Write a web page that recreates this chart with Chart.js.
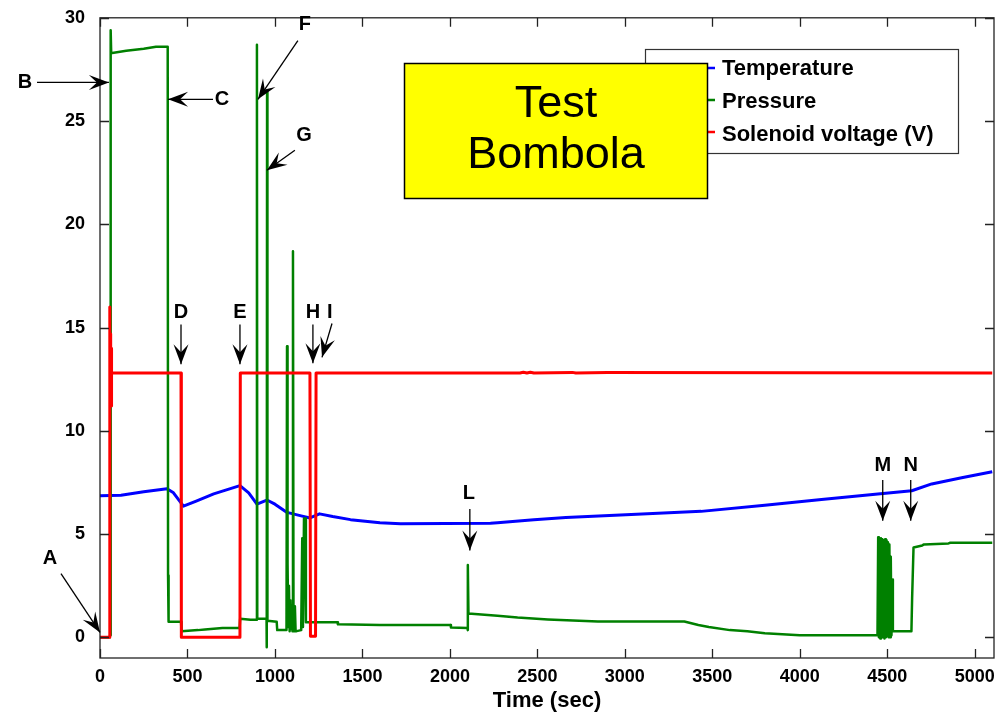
<!DOCTYPE html>
<html>
<head>
<meta charset="utf-8">
<script src="https://cdn.jsdelivr.net/npm/chart.js@4/dist/chart.umd.min.js"></script>
<style>
  body { margin: 0; background: #fff; }
  #wrap { width: 1007px; height: 717px; }
</style>
</head>
<body>
<div id="wrap"><canvas id="bombolaChart" width="1007" height="717"></canvas></div>
<script>
// tick labels
const xTickValues = [0, 500, 1000, 1500, 2000, 2500, 3000, 3500, 4000, 4500, 5000];
const yTickValues = [0, 5, 10, 15, 20, 25, 30];

// Temperature
const tempTime = [0, 120, 250, 383, 420, 477, 550, 650, 800, 850, 897, 954, 1000, 1069, 1150, 1200, 1255,
  1330, 1432, 1600, 1718, 2232, 2272, 2480, 2663, 3006, 3436, 3800, 4124, 4446, 4640, 4754, 4925, 5100];
const tempVals = [6.86, 6.88, 7.05, 7.2, 7.0, 6.35, 6.6, 6.95, 7.35, 7.0, 6.45, 6.65, 6.45, 6.05, 5.88, 5.78, 5.98,
  5.85, 5.7, 5.55, 5.5, 5.52, 5.55, 5.7, 5.8, 5.94, 6.1, 6.4, 6.67, 6.94, 7.1, 7.43, 7.73, 8.02];

// Pressure
const pressTime = [0, 55, 58, 60, 62, 64, 70, 150, 250, 320, 387, 389, 392, 463, 466, 560, 600, 700, 798, 801,
  860, 895, 897, 899, 952, 953, 955, 957, 1010, 1013, 1066, 1069, 1072, 1076, 1080, 1084, 1088, 1092, 1096,
  1100, 1103, 1106, 1110, 1114, 1118, 1124, 1150, 1156, 1160, 1166, 1172, 1177, 1357, 1360, 1600, 2004, 2006,
  2100, 2102, 2103, 2106, 2272, 2387, 2560, 2846, 3340, 3420, 3480, 3600, 3700, 3800, 3900, 4000, 4444,
  4446, 4448, 4452, 4456, 4460, 4464, 4468, 4472, 4476, 4480, 4484, 4488, 4492, 4496, 4500, 4504, 4508,
  4512, 4516, 4520, 4524, 4528, 4532, 4638, 4642, 4650, 4700, 4710, 4850, 4860, 5100];
const pressVals = [0, 0, 0.1, 16.5, 29.4, 28.3, 28.3, 28.4, 28.5, 28.6, 28.6, 3.0, 0.75, 0.75, 0.3, 0.35, 0.38, 0.45, 0.45, 0.9,
  0.85, 0.85, 28.7, 0.9, 0.9, -0.48, 26.4, 0.8, 0.75, 0.35, 0.35, 14.1, 3.6, 0.5, 2.5, 0.3, 1.8, 0.4, 1.2,
  0.3, 18.7, 1.2, 0.3, 1.5, 0.3, 0.3, 0.35, 4.8, 0.5, 5.75, 5.75, 0.73, 0.73, 0.63, 0.6, 0.6, 0.48,
  0.45, 0.35, 3.5, 1.15, 1.05, 0.96, 0.87, 0.77, 0.77, 0.6, 0.5, 0.35, 0.3, 0.2, 0.15, 0.1, 0.1,
  0.1, 4.85, 0.0, 4.8, -0.05, 4.8, 0.05, 4.75, 0.0, 4.7, -0.05, 4.75, 0.0, 4.7, 0.05, 4.6, 0.0,
  4.5, 0.0, 3.9, 0.1, 2.8, 0.3, 0.3, 1.9, 4.35, 4.45, 4.5, 4.55, 4.58, 4.58];

// Solenoid voltage (V)
const solTime = [0, 53, 55, 57, 59, 61, 63, 65, 67, 463, 465, 800, 802, 1200, 1203, 1232, 1235,
  2400, 2420, 2440, 2460, 2480, 2700, 2720, 2900, 5100];
const solVals = [0, 0, 16.0, 11.2, 14.7, 11.3, 14.0, 11.2, 12.8, 12.8, 0.0, 0.0, 12.8, 12.8, 0.05, 0.05, 12.8,
  12.8, 12.84, 12.8, 12.84, 12.8, 12.83, 12.8, 12.82, 12.8];

const seriesNames = ['Temperature', 'Pressure', 'Solenoid voltage (V)'];
const seriesColors = ['#0000ff', '#008000', '#ff0000'];

// letter markers: text position and arrow (from -> tip), in data units
const notes = [
  { t: 'A', at: [-286, 3.81], from: [-223, 3.09], to: [0, 0.24] },
  { t: 'B', at: [-429, 26.87], from: [-360, 26.87], to: [51, 26.87] },
  { t: 'C', at: [697, 26.05], from: [646, 26.05], to: [389, 26.05] },
  { t: 'D', at: [463, 15.73], from: [463, 15.15], to: [463, 13.22] },
  { t: 'E', at: [800, 15.73], from: [800, 15.15], to: [800, 13.22] },
  { t: 'F', at: [1171, 29.67], from: [1131, 28.9], to: [903, 26.05] },
  { t: 'G', at: [1166, 24.31], from: [1114, 23.59], to: [954, 22.62] },
  { t: 'H', at: [1217, 15.73], from: [1217, 15.15], to: [1217, 13.27] },
  { t: 'I', at: [1314, 15.73], from: [1326, 15.2], to: [1269, 13.56] },
  { t: 'L', at: [2109, 6.95], from: [2114, 6.22], to: [2114, 4.2] },
  { t: 'M', at: [4474, 8.3], from: [4474, 7.62], to: [4474, 5.64] },
  { t: 'N', at: [4634, 8.3], from: [4634, 7.62], to: [4634, 5.64] }
];

function pts(times, vals) {
  return times.map(function (t, i) { return { x: t, y: vals[i] }; });
}

function arrowHead(ctx, x1, y1, x2, y2) {
  const L = 20, W = 15;
  const a = Math.atan2(y2 - y1, x2 - x1);
  const dx = Math.cos(a), dy = Math.sin(a);
  const nx = -dy, ny = dx;
  ctx.beginPath();
  ctx.moveTo(x2, y2);
  ctx.lineTo(x2 - dx * L + nx * W / 2, y2 - dy * L + ny * W / 2);
  ctx.lineTo(x2 - dx * L * 0.6, y2 - dy * L * 0.6);
  ctx.lineTo(x2 - dx * L - nx * W / 2, y2 - dy * L - ny * W / 2);
  ctx.closePath();
  ctx.fill();
}

const decor = {
  id: 'decor',
  afterDatasetsDraw(chart) {
    const ctx = chart.ctx;
    const area = chart.chartArea;
    const xs = chart.scales.x, ys = chart.scales.y;
    ctx.save();

    // axes box + inward ticks
    ctx.strokeStyle = '#222';
    ctx.lineWidth = 1.3;
    ctx.strokeRect(area.left, area.top, area.right - area.left, area.bottom - area.top);
    ctx.beginPath();
    xTickValues.forEach(function (v) {
      const px = Math.round(xs.getPixelForValue(v)) + 0.5;
      ctx.moveTo(px, area.bottom); ctx.lineTo(px, area.bottom - 9);
      ctx.moveTo(px, area.top); ctx.lineTo(px, area.top + 9);
    });
    yTickValues.forEach(function (v) {
      const py = Math.round(ys.getPixelForValue(v)) + 0.5;
      ctx.moveTo(area.left, py); ctx.lineTo(area.left + 9, py);
      ctx.moveTo(area.right, py); ctx.lineTo(area.right - 9, py);
    });
    ctx.stroke();

    // legend
    ctx.fillStyle = '#fff';
    ctx.fillRect(645, 49, 313, 104);
    ctx.strokeStyle = '#333';
    ctx.lineWidth = 1.2;
    ctx.strokeRect(645.5, 49.5, 313, 104);
    ctx.font = 'bold 22px "Liberation Sans", Arial, sans-serif';
    ctx.textAlign = 'left';
    ctx.textBaseline = 'alphabetic';
    chart.data.datasets.forEach(function (ds, i) {
      const ly = 68 + i * 32;
      ctx.strokeStyle = ds.borderColor;
      ctx.lineWidth = 2.5;
      ctx.beginPath(); ctx.moveTo(680, ly); ctx.lineTo(715, ly); ctx.stroke();
      ctx.fillStyle = '#000';
      ctx.fillText(ds.label, 722, 75 + i * 33);
    });

    // yellow title box
    ctx.fillStyle = '#ffff00';
    ctx.fillRect(404, 63, 303, 135);
    ctx.strokeStyle = '#000';
    ctx.lineWidth = 1.5;
    ctx.strokeRect(404.5, 63.5, 303, 135);
    ctx.fillStyle = '#000';
    ctx.font = '45px "Liberation Sans", Arial, sans-serif';
    ctx.textAlign = 'center';
    ctx.fillText('Test', 556, 117);
    ctx.fillText('Bombola', 556, 168);

    // letters and arrows
    ctx.font = 'bold 20px "Liberation Sans", Arial, sans-serif';
    ctx.textBaseline = 'middle';
    ctx.strokeStyle = '#000';
    ctx.lineWidth = 1.3;
    notes.forEach(function (n) {
      ctx.fillText(n.t, xs.getPixelForValue(n.at[0]), ys.getPixelForValue(n.at[1]));
      const x1 = xs.getPixelForValue(n.from[0]), y1 = ys.getPixelForValue(n.from[1]);
      const x2 = xs.getPixelForValue(n.to[0]), y2 = ys.getPixelForValue(n.to[1]);
      ctx.beginPath(); ctx.moveTo(x1, y1); ctx.lineTo(x2, y2); ctx.stroke();
      arrowHead(ctx, x1, y1, x2, y2);
    });
    ctx.restore();
  }
};

Chart.defaults.font.family = '"Liberation Sans", Arial, sans-serif';
Chart.defaults.color = '#000';

new Chart(document.getElementById('bombolaChart'), {
  type: 'line',
  data: {
    datasets: [
      { label: seriesNames[0], data: pts(tempTime, tempVals), borderColor: seriesColors[0], borderWidth: 3, order: 2 },
      { label: seriesNames[1], data: pts(pressTime, pressVals), borderColor: seriesColors[1], borderWidth: 2.5, order: 1 },
      { label: seriesNames[2], data: pts(solTime, solVals), borderColor: seriesColors[2], borderWidth: 3, order: 0 }
    ]
  },
  options: {
    responsive: false,
    animation: false,
    elements: { point: { radius: 0 }, line: { tension: 0, fill: false, borderJoinStyle: 'round' } },
    layout: { padding: { top: 15, right: 13, left: 0, bottom: 0 } },
    plugins: { legend: { display: false }, tooltip: { enabled: false } },
    scales: {
      x: {
        type: 'linear',
        min: 0,
        max: 5110,
        grid: { display: false },
        border: { display: false },
        afterBuildTicks: function (s) { s.ticks = xTickValues.map(function (v) { return { value: v }; }); },
        afterFit: function (s) { s.height = 59; },
        ticks: {
          font: { size: 18, weight: 'bold' }, padding: 0, maxRotation: 0, autoSkip: false,
          callback: function (v) { return String(v); }
        },
        title: { display: true, text: 'Time (sec)', font: { size: 22, weight: 'bold' }, padding: { top: 0, bottom: 3 } }
      },
      y: {
        min: -1,
        max: 30,
        grid: { display: false },
        border: { display: false },
        afterBuildTicks: function (s) { s.ticks = yTickValues.map(function (v) { return { value: v }; }); },
        afterFit: function (s) { s.width = 100; },
        ticks: { font: { size: 18, weight: 'bold' }, padding: 7 }
      }
    }
  },
  plugins: [decor]
});
</script>
</body>
</html>
